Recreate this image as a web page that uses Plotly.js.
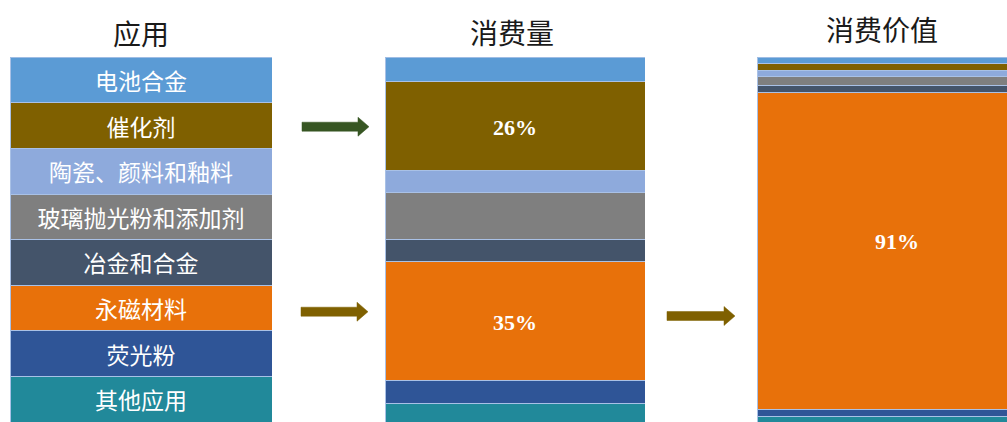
<!DOCTYPE html>
<html>
<head>
<meta charset="utf-8">
<script src="https://cdn.plot.ly/plotly-3.0.1.min.js"></script>
<style>
html,body{margin:0;padding:0;background:#fff;overflow:hidden;}
#chart{width:1007px;height:422px;}
</style>
</head>
<body>
<div id="chart"></div>
<script>
// ---- data ----
const categories = ['电池合金','催化剂','陶瓷、颜料和釉料','玻璃抛光粉和添加剂','冶金和合金','永磁材料','荧光粉','其他应用'];
const colors = ['#5b9bd5','#7f6000','#8eaadc','#7f7f7f','#44546a','#e8710a','#2f5597','#21899a'];
const columnTitles = ['应用','消费量','消费价值'];
const appUnits = [1,1,1,1,1,1,1,1];                       // equal bands in the legend column
const volumeShare = [7.1, 26, 6.6, 13.6, 6.4, 35, 6.6, 5.4];  // 消费量 (%)
const volumeLabels = ['', '26%', '', '', '', '35%', '', ''];
const valueShare = [1.7, 2.1, 1.7, 2.7, 1.9, 91, 2.0, 1.6];   // 消费价值 (%)
const valueLabels = ['', '', '', '', '', '91%', '', ''];

// ---- layout helpers ----
const W = 1007, H = 422;
const px = x => x / W;
const py = y => 1 - y / H;
const plotTop = 57.3;

const pctFont = {family: 'Liberation Serif', size: 22, color: '#ffffff', weight: 'bold'};
const columns = [
  {vals: appUnits, text: categories, barText: true, x0: 10, x1: 272, xr: [-0.5, 0.5], yshift: 0},
  {vals: volumeShare, text: volumeLabels, barText: false, x0: 385, x1: 645, xr: [-0.5, 0.5], yshift: -1},
  {vals: valueShare, text: valueLabels, barText: false, x0: 757, x1: 1007, xr: [-0.5, 0.393], yshift: 9}
];

const traces = [];
const layout = {
  width: W, height: H,
  margin: {l: 0, r: 0, t: 0, b: 0, pad: 0},
  paper_bgcolor: '#ffffff', plot_bgcolor: 'rgba(0,0,0,0)',
  barmode: 'stack', bargap: 0, showlegend: false,
  annotations: [], shapes: []
};

columns.forEach((col, ci) => {
  const sfx = ci === 0 ? '' : String(ci + 1);
  const total = col.vals.reduce((a, b) => a + b, 0);
  layout['xaxis' + sfx] = {domain: [px(col.x0), px(col.x1)], range: col.xr, visible: false, fixedrange: true, anchor: 'y' + sfx};
  layout['yaxis' + sfx] = {domain: [0, py(plotTop)], range: [total, 0], visible: false, fixedrange: true, anchor: 'x' + sfx};
  let cum = 0;
  categories.forEach((cat, i) => {
    traces.push({
      type: 'bar', x: [0], y: [col.vals[i]], width: [1],
      xaxis: 'x' + sfx, yaxis: 'y' + sfx,
      name: cat,
      marker: {color: colors[i], line: {color: '#a9c1e6', width: 1}},
      text: col.barText ? [col.text[i]] : [''],
      textposition: 'inside', insidetextanchor: 'middle',
      textangle: 0, insidetextfont: {family: 'Noto Sans CJK SC', size: 23, color: '#ffffff'},
      constraintext: 'none', hoverinfo: 'skip'
    });
    if (!col.barText && col.text[i]) {
      layout.annotations.push({
        text: col.text[i], xref: 'x' + sfx, yref: 'y' + sfx,
        x: 0, y: cum + col.vals[i] / 2, yshift: col.yshift,
        showarrow: false, font: pctFont, xanchor: 'center', yanchor: 'middle'
      });
    }
    cum += col.vals[i];
  });
});

// column titles
const titlePos = [[141, 33], [512, 32], [882, 29]];
columnTitles.forEach((t, i) => {
  layout.annotations.push({
    text: t, xref: 'paper', yref: 'paper', x: px(titlePos[i][0]), y: py(titlePos[i][1]),
    xanchor: 'center', yanchor: 'middle', showarrow: false,
    font: {family: 'Noto Sans CJK SC', size: 28, color: '#1a1a1a'}
  });
});

// block arrows
function arrow(x0, x1, yc, color) {
  const s = 4.5, hh = 9.5, hl = 11;
  const pts = [[x0, yc - s], [x1 - hl, yc - s], [x1 - hl, yc - hh], [x1, yc], [x1 - hl, yc + hh], [x1 - hl, yc + s], [x0, yc + s]];
  const path = 'M' + pts.map(p => px(p[0]).toFixed(5) + ',' + py(p[1]).toFixed(5)).join(' L') + ' Z';
  layout.shapes.push({type: 'path', xref: 'paper', yref: 'paper', path: path, fillcolor: color, line: {color: color, width: 0.5}});
}
arrow(302, 369, 126.7, '#375623');
arrow(301, 368, 311.7, '#7f6000');
arrow(667, 735, 316, '#7f6000');

Plotly.newPlot('chart', traces, layout, {displayModeBar: false, staticPlot: true});
</script>
</body>
</html>
